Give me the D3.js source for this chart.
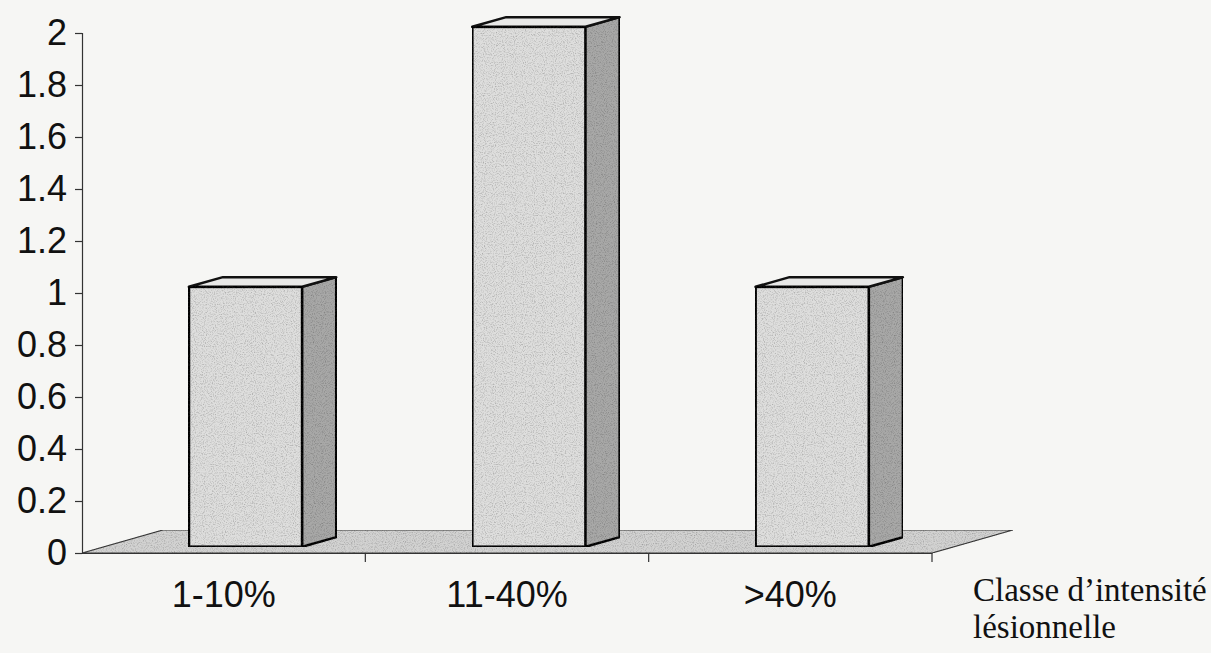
<!DOCTYPE html>
<html><head><meta charset="utf-8">
<script src="https://cdn.jsdelivr.net/npm/d3@7"></script>
<style>html,body{margin:0;padding:0;background:#f6f6f4;}svg{display:block;}</style>
</head><body>
<svg id="c" width="1211" height="653"></svg>
<script>
const categories = ["1-10%", "11-40%", ">40%"];
const values = [1, 2, 1];
const yTicks = [0, 0.2, 0.4, 0.6, 0.8, 1, 1.2, 1.4, 1.6, 1.8, 2];
const axisTitle = ["Classe d\u2019intensité", "lésionnelle"];

const svg = d3.select("#c");
const W = 1211, H = 653;
svg.append("rect").attr("width", W).attr("height", H).attr("fill", "#f6f6f4");

const x = d3.scaleBand().domain(categories).range([82, 932]).padding(0);
const y = d3.scaleLinear().domain([0, 2]).range([553, 33]);
const floorD = [81, -23];
const bf = 0.27, bb = 0.69; // bar depth fractions
const fOff = [floorD[0]*bf, floorD[1]*bf];
const bOff = [floorD[0]*bb, floorD[1]*bb];

// noise filter for scanned texture
const defs = svg.append("defs");
const filt = defs.append("filter").attr("id", "grain").attr("x", 0).attr("y", 0).attr("width", 1).attr("height", 1);
filt.append("feTurbulence").attr("type", "fractalNoise").attr("baseFrequency", 0.9).attr("numOctaves", 2).attr("seed", 3).attr("result", "n");
filt.append("feColorMatrix").attr("in", "n").attr("type", "matrix")
  .attr("values", "0 0 0 0 0  0 0 0 0 0  0 0 0 0 0  0 0 0 -1.0 0.55").attr("result", "na");
filt.append("feComposite").attr("in", "na").attr("in2", "SourceGraphic").attr("operator", "in").attr("result", "nm");
filt.append("feMerge").call(m => { m.append("feMergeNode").attr("in", "SourceGraphic"); m.append("feMergeNode").attr("in", "nm"); });

const pts = a => a.map(p => p.join(",")).join(" ");

// floor
const x0 = x.range()[0], x1 = x.range()[1], y0 = y(0);
svg.append("polygon")
  .attr("points", pts([[x0, y0], [x1, y0], [x1 + floorD[0], y0 + floorD[1]], [x0 + floorD[0], y0 + floorD[1]]]))
  .attr("fill", "#d2d2d1").attr("stroke", "#3a3a3a").attr("stroke-width", 1.2).attr("filter", "url(#grain)");

// bars
const bw = x.bandwidth() * 0.4;
const bars = svg.append("g").selectAll("g").data(categories.map((c, i) => ({c, v: values[i]}))).join("g");
bars.each(function(d) {
  const g = d3.select(this);
  const L = x(d.c) + (x.bandwidth() - bw) / 2 + fOff[0];
  const R = L + bw;
  const B = y0 + fOff[1];
  const T = y(d.v) + fOff[1];
  const dx = bOff[0] - fOff[0], dy = bOff[1] - fOff[1];
  // side
  g.append("polygon").attr("points", pts([[R, B], [R + dx, B + dy], [R + dx, T + dy], [R, T]]))
    .attr("fill", "#a8a8a7").attr("stroke", "#111").attr("stroke-width", 2.5).attr("stroke-linejoin", "round").attr("filter", "url(#grain)");
  // top
  g.append("polygon").attr("points", pts([[L, T], [R, T], [R + dx, T + dy], [L + dx, T + dy]]))
    .attr("fill", "#e8e8e7").attr("stroke", "#111").attr("stroke-width", 2.5).attr("stroke-linejoin", "round");
  // front
  g.append("rect").attr("x", L).attr("y", T).attr("width", bw).attr("height", B - T)
    .attr("fill", "#dededd").attr("stroke", "#111").attr("stroke-width", 2.8).attr("filter", "url(#grain)");
});

// y axis
const yAxis = d3.axisLeft(y).tickValues(yTicks).tickSize(7).tickPadding(8).tickFormat(d3.format("~g"));
const gy = svg.append("g").attr("transform", `translate(${x0},0)`).call(yAxis);
gy.select(".domain").attr("stroke", "#333").attr("stroke-width", 1.2);
gy.selectAll(".tick line").attr("stroke", "#333").attr("stroke-width", 1.2);
gy.selectAll("text").attr("font-family", "Liberation Sans, Arial, sans-serif").attr("font-size", 36).attr("fill", "#111");

// x axis
const xAxis = d3.axisBottom(x).tickSize(0).tickPadding(28);
const gx = svg.append("g").attr("transform", `translate(0,${y0})`).call(xAxis);
gx.select(".domain").attr("stroke", "#333").attr("stroke-width", 1.2);
gx.selectAll("text").attr("font-family", "Liberation Sans, Arial, sans-serif").attr("font-size", 36).attr("fill", "#111");
// category separators
const seps = categories.map(c => x(c) + x.bandwidth());
gx.selectAll("line.sep").data(seps).join("line").attr("class", "sep")
  .attr("x1", d => d).attr("x2", d => d).attr("y1", 0).attr("y2", 9).attr("stroke", "#333").attr("stroke-width", 1.2);

// axis title
const t = svg.append("text").attr("font-family", "Liberation Serif, Times New Roman, serif").attr("font-size", 33).attr("fill", "#111");
axisTitle.forEach((s, i) => t.append("tspan").attr("x", 973).attr("y", 601 + i * 37).text(s));
</script>
</body></html>
